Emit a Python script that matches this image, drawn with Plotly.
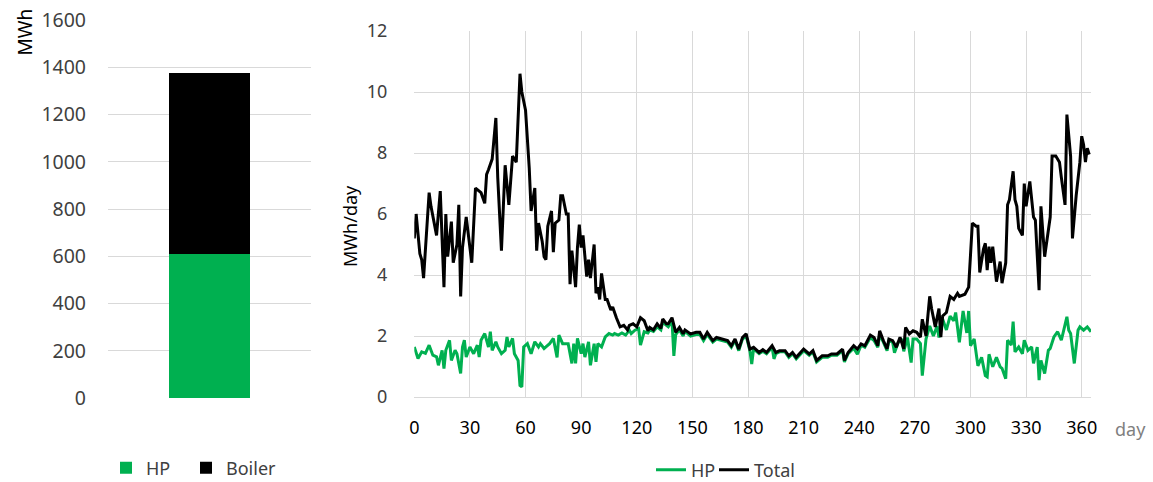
import plotly.graph_objects as go

# ---------------- data ----------------
bar_category = ["Year"]
bar_hp = [610]
bar_boiler = [765]

total_days = [0, 1, 3, 4, 5, 8, 9, 12, 14, 16, 17, 18, 20, 21, 23, 24, 25, 26, 28, 31,
              33, 36, 38, 39, 40, 42, 44, 45, 47, 49, 51, 53, 55, 57, 58, 60, 62, 63, 65, 66,
              67, 69, 70, 71, 72, 74, 75, 76, 78, 79, 80, 82, 83, 84, 85, 87, 88, 89, 90, 91,
              93, 94, 95, 97, 98, 99, 100, 101, 103, 104, 106, 107, 109, 111, 113, 115, 116, 118, 120, 122,
              124, 126, 127, 129, 131, 133, 134, 136, 137, 139, 141, 143, 145, 146, 149, 152, 154, 156, 158, 161,
              163, 166, 169, 171, 173, 175, 177, 179, 181, 183, 186, 188, 190, 193, 195, 197, 200, 202, 204, 206,
              210, 213, 215, 217, 220, 223, 225, 228, 231, 232, 234, 237, 239, 241, 243, 246, 248, 250, 251, 253,
              255, 256, 258, 260, 262, 264, 265, 267, 269, 271, 273, 274, 276, 278, 279, 281, 283, 284, 285, 287,
              289, 291, 293, 294, 297, 299, 301, 303, 304, 305, 307, 308, 309, 310, 311, 312, 314, 316, 317, 319,
              320, 321, 323, 324, 325, 326, 328, 329, 330, 332, 334, 335, 337, 338, 340, 343, 344, 346, 348, 349,
              351, 352, 354, 355, 357, 359, 360, 361, 362, 363, 364]
total_vals = [5.2, 6.0, 4.7, 4.5, 3.9, 6.7, 6.25, 5.3, 6.75, 3.6, 6.0, 4.6, 5.75, 4.4, 5.0, 6.3, 3.3, 4.9, 5.9, 4.4,
              6.85, 6.7, 6.35, 7.3, 7.45, 7.8, 9.15, 7.2, 4.8, 7.6, 6.3, 7.9, 7.7, 10.6, 10.0, 9.4, 7.5, 6.1, 6.85, 4.8,
              5.7, 5.1, 4.6, 4.5, 5.6, 6.1, 4.75, 5.7, 5.8, 6.6, 6.6, 6.0, 6.0, 3.7, 4.8, 3.6, 4.9, 5.65, 4.9, 5.3,
              3.95, 4.5, 3.9, 5.0, 3.4, 3.6, 3.2, 4.05, 3.2, 3.2, 2.85, 2.95, 2.6, 2.3, 2.35, 2.2, 2.35, 2.4, 2.3, 2.6,
              2.5, 2.17, 2.28, 2.2, 2.4, 2.25, 2.56, 2.4, 2.4, 2.6, 2.12, 2.28, 2.07, 2.2, 2.07, 2.12, 2.12, 1.9, 2.12, 1.85,
              1.95, 1.9, 1.85, 1.68, 1.9, 1.57, 1.95, 2.07, 1.57, 1.63, 1.46, 1.55, 1.46, 1.68, 1.46, 1.52, 1.52, 1.35, 1.46, 1.3,
              1.57, 1.41, 1.52, 1.2, 1.35, 1.35, 1.41, 1.41, 1.57, 1.2, 1.46, 1.68, 1.57, 1.74, 1.68, 2.03, 1.95, 1.68, 2.17, 1.85,
              1.58, 1.9, 1.85, 1.63, 1.96, 1.58, 2.28, 2.07, 2.17, 2.12, 1.96, 2.55, 2.0, 3.3, 2.9, 2.3, 2.9, 1.96, 2.66, 2.77,
              3.3, 3.2, 3.4, 3.3, 3.37, 3.6, 5.7, 5.6, 5.6, 4.08, 4.85, 5.04, 4.16, 4.93, 4.4, 4.93, 3.78, 4.44, 3.73, 4.4,
              6.3, 6.47, 7.4, 6.47, 6.25, 5.53, 5.3, 7.0, 6.25, 7.07, 5.9, 5.8, 3.5, 6.25, 4.6, 5.9, 7.9, 7.9, 7.7, 7.2,
              6.3, 9.26, 7.9, 5.2, 6.6, 7.7, 8.55, 8.27, 7.7, 8.16, 7.95]

hp_days = [0, 2, 4, 6, 8, 10, 12, 13, 15, 16, 17, 19, 20, 22, 23, 25, 26, 27, 28, 30,
           32, 34, 35, 36, 38, 40, 41, 42, 44, 45, 47, 49, 50, 51, 53, 54, 56, 57, 58, 59,
           61, 63, 65, 67, 68, 70, 71, 73, 75, 77, 78, 80, 81, 83, 85, 86, 87, 88, 90, 91,
           92, 94, 95, 97, 98, 99, 101, 103, 105, 107, 108, 110, 112, 114, 116, 117, 119, 121, 122, 124,
           126, 127, 129, 131, 133, 134, 136, 137, 139, 140, 141, 143, 145, 146, 149, 152, 154, 156, 158, 161,
           163, 166, 169, 171, 173, 175, 177, 179, 181, 182, 183, 186, 188, 190, 193, 194, 195, 197, 200, 202,
           204, 206, 210, 213, 215, 217, 220, 223, 225, 228, 231, 232, 234, 237, 239, 241, 243, 246, 248, 250,
           251, 253, 255, 256, 258, 259, 261, 263, 264, 266, 268, 269, 271, 273, 274, 276, 278, 280, 282, 283,
           285, 287, 289, 291, 292, 294, 296, 298, 299, 300, 302, 304, 306, 308, 309, 310, 312, 314, 316, 317,
           319, 320, 322, 323, 324, 326, 328, 329, 331, 333, 334, 336, 337, 338, 340, 342, 343, 345, 347, 349,
           351, 352, 353, 354, 356, 358, 359, 361, 363, 365]
hp_vals = [1.64, 1.26, 1.48, 1.43, 1.7, 1.37, 1.32, 1.04, 1.53, 0.93, 1.53, 1.86, 1.2, 1.53, 1.42, 0.77, 1.64, 1.86, 1.31, 1.64,
           1.42, 1.7, 1.31, 1.86, 2.08, 1.64, 2.14, 1.53, 1.81, 1.64, 1.42, 1.53, 1.97, 1.64, 1.92, 1.42, 1.2, 0.38, 0.33, 1.64,
           1.75, 1.42, 1.81, 1.64, 1.75, 1.59, 1.64, 1.75, 1.92, 1.3, 2.03, 1.75, 1.75, 1.75, 1.1, 1.75, 1.1, 1.92, 1.42, 1.75,
           1.31, 1.81, 1.04, 1.75, 1.15, 1.75, 1.64, 1.97, 2.08, 2.03, 2.08, 2.03, 2.1, 2.03, 2.19, 2.08, 2.19, 2.24, 1.7, 2.14,
           2.1, 2.2, 2.15, 2.3, 2.2, 2.45, 2.35, 2.3, 2.5, 1.35, 2.05, 2.2, 2.0, 2.15, 2.0, 2.05, 2.05, 1.85, 2.05, 1.8,
           1.9, 1.85, 1.8, 1.63, 1.85, 1.52, 1.9, 2.0, 1.52, 1.08, 1.58, 1.42, 1.5, 1.42, 1.63, 1.25, 1.42, 1.48, 1.48, 1.3,
           1.42, 1.25, 1.52, 1.37, 1.48, 1.15, 1.3, 1.3, 1.37, 1.37, 1.52, 1.15, 1.42, 1.6, 1.4, 1.7, 1.63, 1.95, 1.85, 1.63,
           2.05, 1.8, 1.52, 1.85, 1.8, 1.45, 1.79, 1.9, 1.5, 1.95, 1.13, 1.9, 1.9, 1.75, 0.7, 1.9, 2.33, 2.0, 2.33, 1.95,
           2.55, 2.2, 2.65, 2.5, 2.77, 1.79, 2.82, 2.1, 2.82, 1.68, 1.9, 1.02, 1.3, 0.7, 0.66, 1.4, 0.99, 1.3, 0.99, 0.94,
           0.6, 1.86, 1.7, 2.47, 1.48, 1.64, 1.42, 1.86, 1.53, 1.64, 1.1, 1.64, 0.55, 1.2, 0.77, 1.53, 1.59, 1.97, 2.14, 1.86,
           2.36, 2.63, 2.19, 2.08, 1.1, 2.19, 2.3, 2.19, 2.3, 2.14]

left_ticks = [0, 200, 400, 600, 800, 1000, 1200, 1400, 1600]
right_yticks = [0, 2, 4, 6, 8, 10, 12]
right_xticks = [0, 30, 60, 90, 120, 150, 180, 210, 240, 270, 300, 330, 360]

# ---------------- style ----------------
GREEN = "#00B050"
BLACK = "#000000"
GRID = "#D9D9D9"
FONT = "Noto Sans"
TXT = "#404040"
W, H = 1153, 482


def px_x(p):
    return p / W


def px_y(p):
    return 1 - p / H


fig = go.Figure()

fig.add_trace(go.Bar(x=bar_category, y=bar_hp, name="HP", marker=dict(color=GREEN, line=dict(width=0)),
                     width=0.4, xaxis="x", yaxis="y", legend="legend"))
fig.add_trace(go.Bar(x=bar_category, y=bar_boiler, name="Boiler", marker=dict(color=BLACK, line=dict(width=0)),
                     width=0.4, xaxis="x", yaxis="y", legend="legend2"))

fig.add_trace(go.Scatter(x=hp_days, y=hp_vals, name="HP", mode="lines",
                         line=dict(color=GREEN, width=3), xaxis="x2", yaxis="y2", legend="legend3"))
fig.add_trace(go.Scatter(x=total_days, y=total_vals, name="Total", mode="lines",
                         line=dict(color=BLACK, width=3), xaxis="x2", yaxis="y2", legend="legend4"))

leg_common = dict(orientation="h", xanchor="left", yanchor="middle",
                  font=dict(size=18, color=TXT), bgcolor="rgba(0,0,0,0)",
                  borderwidth=0, itemwidth=30)

fig.update_layout(
    width=W, height=H,
    margin=dict(l=0, r=0, t=0, b=0, autoexpand=False),
    paper_bgcolor="white", plot_bgcolor="white",
    font=dict(family=FONT, size=18, color=TXT),
    barmode="stack",
    showlegend=True,
    xaxis=dict(domain=[px_x(108), px_x(311)], range=[-0.5, 0.5], showticklabels=False,
               showgrid=False, zeroline=False, showline=False, fixedrange=True, automargin=False),
    yaxis=dict(domain=[px_y(398), px_y(20)], range=[0, 1600], tickvals=left_ticks,
               showgrid=True, gridcolor=GRID, gridwidth=1, zeroline=False, showline=False,
               ticks="", ticklabelstandoff=21, ticklabeloverflow="allow",
               tickfont=dict(size=19.5, color=TXT), automargin=False),
    xaxis2=dict(domain=[px_x(414.3), px_x(1091)], range=[0, 365], tickvals=right_xticks,
                showgrid=True, gridcolor=GRID, gridwidth=1, zeroline=False,
                showline=True, linecolor=GRID, linewidth=1, ticks="", ticklabelstandoff=14,
                ticklabeloverflow="allow",
                tickfont=dict(size=18, color=BLACK), anchor="y2", automargin=False),
    yaxis2=dict(domain=[px_y(397), px_y(31)], range=[0, 12], tickvals=right_yticks,
                showgrid=True, gridcolor=GRID, gridwidth=1, zeroline=False, showline=False,
                ticks="", ticklabelstandoff=26, ticklabeloverflow="allow",
                tickfont=dict(size=18, color=TXT), anchor="x2", automargin=False),
    legend=dict(x=px_x(106), y=px_y(468), **leg_common),
    legend2=dict(x=px_x(186), y=px_y(468), **leg_common),
    legend3=dict(x=px_x(651), y=px_y(470), **leg_common),
    legend4=dict(x=px_x(714), y=px_y(470), **leg_common),
    annotations=[
        dict(text="MWh", textangle=-90, x=px_x(25), y=px_y(7), xref="paper", yref="paper",
             xanchor="center", yanchor="top", showarrow=False, font=dict(size=19, color=BLACK)),
        dict(text="MWh/day", textangle=-90, x=px_x(350), y=px_y(226), xref="paper", yref="paper",
             xanchor="center", yanchor="middle", showarrow=False, font=dict(size=18, color=BLACK)),
        dict(text="day", x=px_x(1113), y=px_y(429), xref="paper", yref="paper",
             xanchor="left", yanchor="middle", showarrow=False, font=dict(size=18, color="#7F7F7F")),
    ],
)

# remove the browser's default 8px body margin so the figure fills the window exactly
fig.write_html("out.html", config={"displayModeBar": False},
               post_script="document.body.style.margin='0';document.body.style.overflow='hidden';")
